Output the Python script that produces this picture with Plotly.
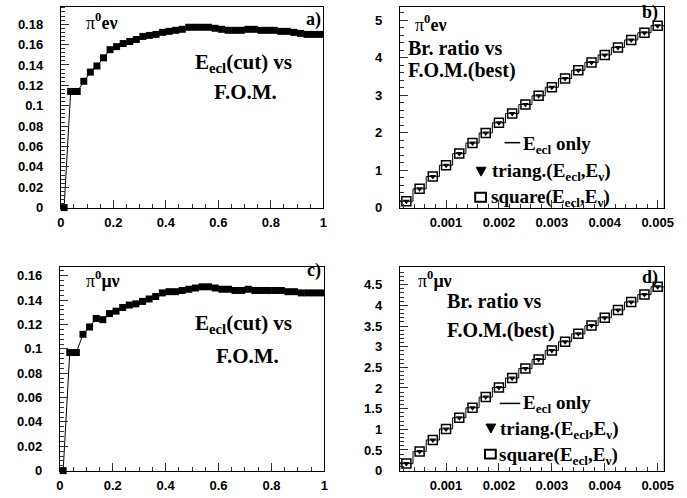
import plotly.graph_objects as go

W, H = 687, 498

# E_ecl cut values (bin centres) and figure of merit for the two channels
ecl_cut = [0.0125, 0.0375, 0.0625, 0.0875, 0.1125, 0.1375, 0.1625, 0.1875,
           0.2125, 0.2375, 0.2625, 0.2875, 0.3125, 0.3375, 0.3625, 0.3875,
           0.4125, 0.4375, 0.4625, 0.4875, 0.5125, 0.5375, 0.5625, 0.5875,
           0.6125, 0.6375, 0.6625, 0.6875, 0.7125, 0.7375, 0.7625, 0.7875,
           0.8125, 0.8375, 0.8625, 0.8875, 0.9125, 0.9375, 0.9625, 0.9875]
fom_e = [0.0, 0.114, 0.114, 0.124, 0.133, 0.139, 0.147, 0.155,
         0.158, 0.161, 0.163, 0.165, 0.168, 0.169, 0.170, 0.172,
         0.173, 0.174, 0.175, 0.177, 0.177, 0.177, 0.177, 0.176,
         0.175, 0.174, 0.174, 0.174, 0.175, 0.175, 0.174, 0.174,
         0.174, 0.173, 0.173, 0.172, 0.171, 0.170, 0.170, 0.170]
fom_mu = [0.0, 0.097, 0.097, 0.112, 0.118, 0.125, 0.124, 0.129,
          0.131, 0.134, 0.136, 0.137, 0.139, 0.141, 0.143, 0.146,
          0.147, 0.147, 0.148, 0.149, 0.150, 0.151, 0.151, 0.150,
          0.149, 0.149, 0.148, 0.148, 0.149, 0.148, 0.148, 0.148,
          0.148, 0.148, 0.147, 0.147, 0.146, 0.146, 0.146, 0.146]

# Branching ratio vs best F.O.M.
br_ratio = [0.00025, 0.0005, 0.00075, 0.001, 0.00125, 0.0015, 0.00175, 0.002,
            0.00225, 0.0025, 0.00275, 0.003, 0.00325, 0.0035, 0.00375, 0.004,
            0.00425, 0.0045, 0.00475, 0.005]
best_e = [0.17, 0.50, 0.83, 1.13, 1.44, 1.72, 1.99, 2.26, 2.51, 2.75,
          2.98, 3.21, 3.44, 3.66, 3.87, 4.07, 4.27, 4.47, 4.66, 4.85]
best_mu = [0.17, 0.46, 0.74, 1.01, 1.28, 1.52, 1.78, 2.01, 2.24, 2.47,
           2.69, 2.91, 3.12, 3.31, 3.51, 3.70, 3.89, 4.08, 4.26, 4.45]


def hist_steps(centres, values):
    """Outline of a histogram with the given bin centres."""
    half = (centres[1] - centres[0]) / 2
    xs, ys = [centres[0] - half], [0]
    for c, v in zip(centres, values):
        xs += [c - half, c + half]
        ys += [v, v]
    xs.append(centres[-1] + half)
    ys.append(0)
    return xs, ys


fig = go.Figure()

# left column: F.O.M. vs E_ecl cut
for ys, xa_name, ya_name in ((fom_e, "x", "y"), (fom_mu, "x3", "y3")):
    fig.add_trace(go.Scatter(
        x=ecl_cut, y=ys, mode="lines+markers",
        line=dict(color="black", width=1),
        marker=dict(symbol="square", size=7, color="black"),
        xaxis=xa_name, yaxis=ya_name, showlegend=False, cliponaxis=False))

# right column: histogram outline + two marker sets
for ys, ax in ((best_e, "2"), (best_mu, "4")):
    sx, sy = hist_steps(br_ratio, ys)
    fig.add_trace(go.Scatter(x=sx, y=sy, mode="lines",
                             line=dict(color="black", width=1),
                             xaxis="x" + ax, yaxis="y" + ax, showlegend=False))
    fig.add_trace(go.Scatter(x=br_ratio, y=ys, mode="markers",
                             marker=dict(symbol="square-open", size=9, color="black",
                                         line=dict(width=1.5, color="black")),
                             xaxis="x" + ax, yaxis="y" + ax, showlegend=False))
    fig.add_trace(go.Scatter(x=br_ratio, y=ys, mode="markers",
                             marker=dict(symbol="triangle-down", size=6, color="black"),
                             xaxis="x" + ax, yaxis="y" + ax, showlegend=False))


def dom_x(l, r):
    return [l / W, r / W]


def dom_y(t, b):
    return [1 - b / H, 1 - t / H]


tick_font = dict(family="Liberation Sans", size=13, color="black", weight="bold")


def axis(domain, rng, dtick, minor, anchor, standoff):
    return dict(domain=domain, range=rng, dtick=dtick, tick0=0,
                showline=True, linecolor="black", linewidth=1, mirror=True,
                ticks="inside", ticklen=8, tickcolor="#333", tickwidth=1,
                minor=dict(ticks="inside", ticklen=4, dtick=minor, tickcolor="#333",
                           showgrid=False),
                showgrid=False, zeroline=False, tickfont=tick_font,
                anchor=anchor, ticklabelstandoff=standoff)


xa, xb = dom_x(58, 326), dom_x(404, 674)
xc = dom_x(57, 327)
ytop, ybot = dom_y(7, 211), dom_y(271.7, 478.3)

fig.update_layout(
    width=W, height=H, margin=dict(l=0, r=0, t=0, b=0),
    paper_bgcolor="white", plot_bgcolor="white",
    xaxis=axis(xa, [0, 1], 0.2, 0.05, "y", 3),
    yaxis=axis(ytop, [0, 0.197], 0.02, 0.004, "x", 14),
    xaxis2=axis(xb, [0.000125, 0.005125], 0.001, 0.0002, "y2", 3),
    yaxis2=axis(ytop, [0, 5.35], 1, 0.2, "x2", 14),
    xaxis3=axis(xc, [0, 1], 0.2, 0.05, "y3", 3),
    yaxis3=axis(ybot, [0, 0.167], 0.02, 0.004, "x3", 14),
    xaxis4=axis(xb, [0.000125, 0.005125], 0.001, 0.0002, "y4", 3),
    yaxis4=axis(ybot, [0, 4.92], 0.5, 0.1, "x4", 14),
)

serif = "Liberation Serif"


def px(x, y):
    return x / W, 1 - y / H


def label(x, y, text, size=21, anchor="left", family=serif):
    X, Y = px(x, y)
    fig.add_annotation(x=X, y=Y, xref="paper", yref="paper",
                       text=text, showarrow=False, xanchor=anchor, yanchor="middle",
                       font=dict(family=family, size=size, color="black", weight="bold"))


def key_line(x0, x1, y):
    X0, Y = px(x0, y)
    X1, _ = px(x1, y)
    fig.add_shape(type="line", xref="paper", yref="paper", x0=X0, x1=X1, y0=Y, y1=Y,
                  line=dict(color="black", width=1.5))


def key_box(x0, x1, y0, y1):
    X0, Y0 = px(x0, y0)
    X1, Y1 = px(x1, y1)
    fig.add_shape(type="rect", xref="paper", yref="paper", x0=X0, x1=X1, y0=Y0, y1=Y1,
                  line=dict(color="black", width=2), fillcolor="white")


def key_tri(xl, xr, y):
    X0, Y0 = px(xl, y - 4)
    X1, _ = px(xr, y - 4)
    XM, YB = px((xl + xr) / 2, y + 5)
    fig.add_shape(type="path", xref="paper", yref="paper",
                  path=f"M {X0},{Y0} L {X1},{Y0} L {XM},{YB} Z",
                  line=dict(color="black", width=1), fillcolor="black")


PI = '<span style="font-weight:normal;fill:black;color:black">π</span>'
E_ECL = "E<sub>ecl</sub>"
E_NU = "E<sub>ν</sub>"

# panel a
label(82, 22, PI + "<sup>0</sup>eν", 18)
label(326, 20, "a)", 18, "right")
label(193, 64, E_ECL + "(cut) vs")
label(212, 94, "F.O.M.")
# panel c
label(82, 284, PI + "<sup>0</sup>μν", 18)
label(326, 275, "c)", 18, "right")
label(193, 329, E_ECL + "(cut) vs")
label(214, 362, "F.O.M.")
# panel b
label(417, 24, PI + "<sup>0</sup>eν", 18)
label(670, 13, "b)", 18, "right")
label(410, 49, "Br. ratio vs", 20)
label(410, 72, "F.O.M.(best)", 20)
key_line(511, 527, 145)
label(528, 147, E_ECL + " only", 19)
key_tri(482, 492, 174)
label(496, 175, "triang.(" + E_ECL + "," + E_NU + ")", 19)
key_box(481, 492, 196, 205)
label(495, 201, "square(" + E_ECL + "," + E_NU + ")", 19)
# panel d
label(421, 284, PI + "<sup>0</sup>μν", 18)
label(670, 282, "d)", 18, "right")
label(450, 306, "Br. ratio vs", 20)
label(450, 336, "F.O.M.(best)", 20)
key_line(506, 527, 410)
label(528, 411, E_ECL + " only", 19)
key_tri(492, 502, 435)
label(504, 437, "triang.(" + E_ECL + "," + E_NU + ")", 19)
key_box(491, 502, 457, 466)
label(503, 463, "square(" + E_ECL + "," + E_NU + ")", 19)

fig.write_html("out.html")
